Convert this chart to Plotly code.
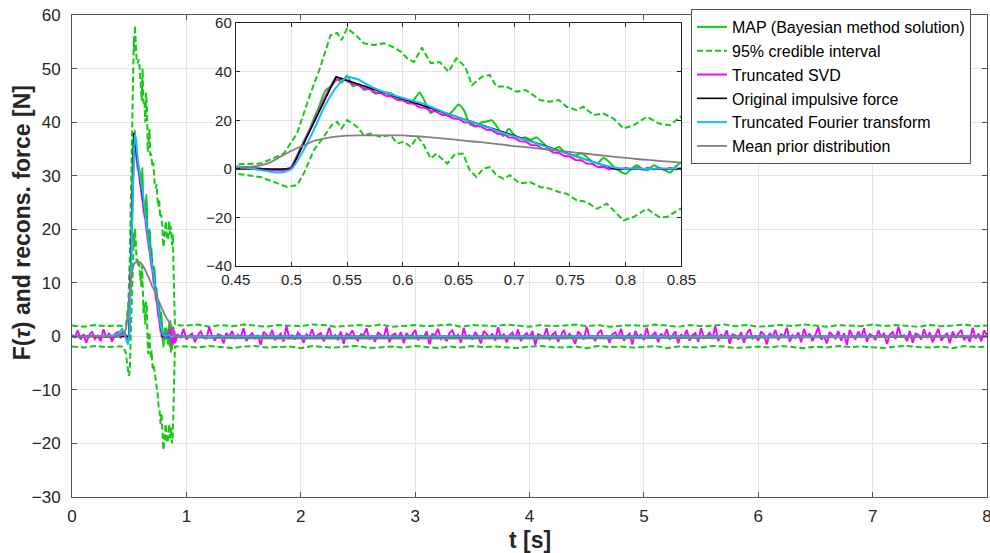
import numpy as np
import plotly.graph_objects as go

# ---------------- data ----------------
main_x_ticks = [0, 1, 2, 3, 4, 5, 6, 7, 8]
main_y_ticks = [-30, -20, -10, 0, 10, 20, 30, 40, 50, 60]
inset_x_ticks = [0.45, 0.5, 0.55, 0.6, 0.65, 0.7, 0.75, 0.8, 0.85]
inset_x_labels = ["0.45", "0.5", "0.55", "0.6", "0.65", "0.7", "0.75", "0.8", "0.85"]
inset_y_ticks = [-40, -20, 0, 20, 40, 60]

# original impulsive force (breakpoints)
orig_t = [0.0, 0.5, 0.54, 0.79, 8.0]
orig_f = [0.0, 0.0, 38.0, 0.0, 0.0]

# sample grid of the pulse window (0.45 ... 0.90 s, 5 ms)
pulse_t = np.round(np.linspace(0.45, 0.90, 91), 3)

map_pulse = [1.0, 0.8, 0.6, 0.4, 0.2, 0.0, -0.3, -0.5, -0.4, -0.1,
             0.8, 5.5, 10.5, 15.0, 20.5, 26.0, 32.0, 34.0, 37.5, 35.5,
             38.5, 34.0, 35.0, 32.5, 33.0, 31.0, 31.5, 31.5, 31.0, 29.5,
             28.5, 27.0, 28.5, 31.5, 27.5, 23.0, 24.5, 23.5, 22.0, 24.0,
             26.5, 24.0, 18.5, 17.5, 19.0, 19.5, 20.0, 17.0, 13.5, 16.5,
             14.0, 12.5, 13.0, 12.0, 13.0, 11.0, 9.0, 8.0, 9.0, 7.0,
             6.0, 5.5, 6.5, 5.0, 3.0, 2.5, 4.5, 3.0, 0.5, -1.0,
             -2.0, 0.0, 1.5, 0.0, -0.5, 1.5, 0.5, -0.5, -1.5, 1.0,
             2.5, -2.0, 3.0, -3.0, 2.0, -2.5, 1.5, -1.5, 1.0, -0.8, 0.3]
map_t_early = [0.0, 0.2, 0.4]
map_early = [0.0, 0.0, 0.0]
map_t_late = [0.95, 8.0]
map_late = [0.0, 0.0]

svd_pulse = [0.8, 0.4, 0.6, 0.2, 0.3, -0.2, -0.4, -0.3, -0.6, -0.2,
             0.8, 5.2, 9.8, 14.6, 19.6, 24.2, 29.5, 33.8, 36.6, 37.0,
             36.2, 35.0, 34.6, 33.2, 32.9, 31.6, 31.3, 30.0, 29.8, 28.5,
             28.2, 27.0, 26.8, 25.4, 25.2, 23.9, 23.6, 22.3, 22.1, 20.8,
             20.6, 19.2, 19.1, 17.6, 17.5, 16.1, 15.9, 14.5, 14.4, 13.0,
             12.8, 11.4, 11.3, 9.9, 9.8, 8.3, 8.2, 6.8, 6.6, 5.3,
             5.1, 3.7, 3.6, 2.2, 2.1, 0.8, 0.9, -0.2, 0.4, -0.3,
             0.5, -0.2, 0.6, -0.3, 0.5, -0.2, 0.4, -0.3, 0.5, -0.2,
             0.3, 1.2, -0.8, 1.5, -1.2, 0.6, -1.5, 1.8, -0.5, 1.0, -1.3]
svd_t_early = np.round(np.linspace(0.0, 0.425, 18), 3)
svd_early = [0.3, -0.2, 1.1, -0.6, 0.4, -1.2, 0.2, 0.9, -0.5, 0.1,
             -0.9, 1.3, -0.2, 0.6, -1.0, 0.4, 0.8, -0.3]
svd_t_late = np.round(np.linspace(0.925, 8.0, 284), 3)
svd_late = [0.3, -0.2, 1.4, -0.6, 0.1, 0.5, -1.1, 0.2, 0.9, -0.3, -0.4, 1.7, 0.0, -0.8, 0.4, 0.2, -1.3, 0.6, -0.1, 1.0,
            -0.5, 0.3, -0.2, 1.5, -0.9, 0.1, 0.6, -0.4, 0.2, -1.6, 0.8, 0.3, -0.2, 1.2, -0.7, 0.0, 0.5, -1.0, 1.9, -0.3,
            0.2, -0.6, 0.7, 0.1, -1.2, 0.4, -0.1, 1.3, -0.5, 0.3, 0.6, -0.9, 0.0, 1.6, -0.4, 0.2, -0.7, 0.9, -1.4, 0.5,
            0.1, 1.1, -0.3, -0.8, 0.4, 0.2, 1.5, -0.6, 0.0, -1.0, 0.7, 0.3, -0.2, 1.8, -1.1, 0.2, 0.5, -0.4, 0.8, -1.3,
            0.6, -0.1, 0.3, 1.2, -0.7, 0.1, -0.3, 0.9, -1.5, 0.4, 0.2, 1.4, -0.5, 0.0, -0.9, 0.6, 1.1, -0.2, 0.3, -1.2,
            1.6, -0.4, 0.2, -0.6, 0.8, 0.0, -1.3, 1.0, 0.3, -0.2, 0.5, -0.8, 1.7, -0.1, 0.4, -1.1, 0.2, 0.7, -0.5, 1.3,
            -0.9, 0.1, 0.6, -0.3, 1.0, -1.6, 0.4, 0.2, -0.1, 1.5, -0.7, 0.3, 0.8, -1.0, 0.0, 1.2, -0.4, 0.5, -0.2, -1.4,
            0.9, 0.3, -0.6, 1.8, -0.2, 0.1, -0.9, 0.6, 1.1, -0.5, 0.2, -1.2, 0.4, 0.7, -0.3, 1.4, -0.8, 0.0, 0.5, -1.5,
            1.0, -0.1, 0.3, -0.7, 1.6, -0.4, 0.2, 0.8, -1.1, 0.5, -0.2, 1.3, -0.6, 0.1, 0.9, -1.3, 0.4, -0.3, 1.2, -0.8,
            0.2, 0.6, -1.0, 1.5, -0.3, 0.0, 0.7, -0.5, 1.9, -0.9, 0.3, -0.1, 1.1, -1.4, 0.4, 0.2, -0.6, 0.8, -1.2, 0.5,
            1.3, -0.4, 0.1, -0.8, 0.9, 0.3, -1.5, 0.6, -0.2, 1.2, -0.7, 0.4, 0.0, 1.6, -1.0, 0.2, -0.3, 0.7, -1.1, 1.4,
            -0.2, 0.5, -0.9, 0.3, 1.7, -0.6, 0.1, -1.3, 0.8, 0.2, -0.4, 1.0, -0.8, 0.6, -1.6, 1.2, 0.0, -0.5, 0.9, -0.3,
            1.5, -1.0, 0.4, 0.1, -0.7, 1.1, -0.2, 0.6, -1.4, 0.3, 0.8, -0.5, 1.8, -0.1, 0.2, -0.9, 1.0, -1.2, 0.5, 0.3,
            -0.6, 1.3, -0.3, 0.7, -1.1, 0.2, 1.4, -0.8, 0.0, 0.6, -1.3, 0.9, -0.2, 0.4, 1.2, -0.7, 0.1, -1.0, 1.6, -0.4,
            0.5, -0.9, 1.1, 0.2]

# smooth curves on a 10 ms grid (0.40 ... 0.90 s)
smooth_t = np.round(np.linspace(0.40, 0.90, 51), 3)
fourier_pulse = [0.3, 0.6, 0.9, 1.2, 1.4, 1.0, 0.4, -0.3, -1.0, -1.5,
                 0.0, 7.0, 16.0, 26.0, 33.5, 37.8, 36.8, 34.2, 32.2, 30.6,
                 29.2, 27.9, 26.6, 24.6, 22.8, 21.2, 19.6, 18.0, 16.5, 14.8,
                 13.4, 12.0, 10.5, 8.9, 7.4, 6.0, 4.5, 3.0, 1.6, 0.6,
                 0.1, 0.2, 0.0, 0.2, 0.1, 0.3, 0.0, -0.2, 0.1, 0.0, 0.0]
fourier_t_early = [0.0, 0.2, 0.3]
fourier_early = [0.0, 0.0, 0.1]
fourier_t_late = [1.0, 8.0]
fourier_late = [0.0, 0.0]

prior_pulse = [0.0, 0.0, 0.1, 0.2, 0.2, 0.3, 0.7, 1.3, 2.5, 5.0,
               7.5, 9.5, 11.5, 12.6, 13.3, 13.7, 13.8, 13.8, 13.8, 13.8,
               13.8, 13.5, 13.2, 12.8, 12.4, 11.9, 11.4, 11.0, 10.5, 10.0,
               9.4, 9.0, 8.5, 8.0, 7.5, 7.0, 6.5, 6.0, 5.5, 5.0,
               4.6, 4.1, 3.7, 3.3, 3.0, 2.6, 2.3, 1.9, 0.8, 0.2, 0.0]
prior_t_early = [0.0, 0.3]
prior_early = [0.0, 0.0]
prior_t_late = [8.0]
prior_late = [0.0]

# 95 % credible interval
ci_t_early = [0.0, 0.1, 0.2, 0.3, 0.4]
ci_up_early = [2.0, 1.8, 2.1, 1.9, 2.0]
ci_lo_early = [-1.9, -2.1, -1.8, -2.0, -1.9]

ci_t_up_pulse = [0.45, 0.472, 0.493, 0.505, 0.517, 0.526, 0.535, 0.541, 0.545, 0.55,
                 0.559, 0.565, 0.574, 0.583, 0.592, 0.598, 0.604, 0.61, 0.617, 0.625,
                 0.633, 0.641, 0.648, 0.656, 0.662, 0.671, 0.678, 0.684, 0.693, 0.702,
                 0.71, 0.717, 0.723, 0.732, 0.74, 0.747, 0.756, 0.762, 0.771, 0.78,
                 0.789, 0.798, 0.807, 0.819, 0.83, 0.84, 0.849,
                 0.858, 0.866, 0.874, 0.882, 0.888, 0.894, 0.9]
ci_up_pulse = [1.9, 2.2, 6.3, 14.6, 31, 42, 55, 56, 53, 58,
               54.5, 51.7, 51, 51.7, 50, 48.3, 45.5, 44, 50, 43.5,
               44, 40, 45.5, 42, 34.5, 38, 38.7, 33.9, 33.9, 31.8,
               32.5, 30.4, 28.4, 27.7, 28.4, 25.6, 24.2, 25.6, 22.2, 22.8,
               20.8, 16.7, 18, 21.5, 18.7, 18, 21.5,
               19, 20.5, 17, 19, 12, 5, 2.1]
ci_t_lo_pulse = [0.45, 0.472, 0.487, 0.496, 0.505, 0.511, 0.52, 0.529, 0.536, 0.541,
                 0.545, 0.55, 0.559, 0.565, 0.571, 0.58, 0.589, 0.595, 0.601, 0.607,
                 0.613, 0.618, 0.625, 0.63, 0.64, 0.647, 0.654, 0.66, 0.666, 0.672,
                 0.678, 0.684, 0.69, 0.696, 0.705, 0.714, 0.723, 0.732, 0.74, 0.747,
                 0.756, 0.765, 0.774, 0.783, 0.792, 0.798, 0.807, 0.819, 0.83, 0.837, 0.849,
                 0.858, 0.866, 0.874, 0.882, 0.888, 0.894, 0.9]
ci_lo_pulse = [-1.9, -3.3, -6, -7.4, -6.7, -1.9, 7.7, 13.2, 18, 19.4,
               16.7, 20.1, 17.3, 13.9, 14.6, 13.2, 13.9, 10.5, 11.2, 9.1,
               13.2, 10.5, 4.3, 6.3, 2.2, 6.3, 6.3, -0.5, -3.3, 0.1,
               0.8, -2.6, -4, -2.6, -6, -5.4, -7.4, -8.1, -9.5, -10.2,
               -12.9, -13.6, -16.4, -14.3, -18.4, -21.2, -19.8, -16.4, -19.8, -19.8, -16.4,
               -19, -17, -20, -18, -11, -4, -1.9]
ci_t_late = np.round(np.linspace(1.0, 8.0, 71), 2)
ci_up_late = [2.0, 2.2, 1.8, 2.1, 1.9, 2.2, 2.0, 1.8, 2.1, 2.0,
              1.9, 2.2, 2.1, 1.8, 2.0, 2.1, 1.9, 2.2, 1.8, 2.0,
              2.1, 1.9, 2.0, 2.2, 1.8, 2.1, 2.0, 1.9, 2.2, 2.0,
              1.8, 2.1, 1.9, 2.0, 2.2, 1.9, 2.1, 1.8, 2.0, 2.1,
              1.9, 2.2, 2.0, 1.8, 2.1, 1.9, 2.0, 2.2, 1.9, 2.1,
              1.8, 2.0, 2.1, 1.9, 2.2, 2.0, 1.8, 2.1, 2.0, 1.9,
              2.2, 1.9, 2.1, 2.0, 1.8, 2.1, 1.9, 2.0, 2.2, 1.9, 2.0]
ci_lo_late = [-1.9, -2.1, -1.8, -2.0, -2.2, -1.9, -1.8, -2.1, -2.0, -1.9,
              -2.2, -1.8, -2.0, -2.1, -1.9, -1.8, -2.2, -2.0, -1.9, -2.1,
              -1.8, -2.0, -2.2, -1.9, -2.1, -1.8, -2.0, -1.9, -2.1, -2.2,
              -1.9, -1.8, -2.0, -2.1, -1.9, -2.2, -1.8, -2.0, -1.9, -2.1,
              -2.0, -1.8, -2.2, -1.9, -2.0, -2.1, -1.8, -1.9, -2.2, -2.0,
              -1.9, -2.1, -1.8, -2.0, -2.2, -1.9, -2.1, -1.8, -2.0, -1.9,
              -2.1, -2.2, -1.9, -1.8, -2.0, -2.1, -1.9, -2.2, -1.8, -2.0, -1.9]

x_title = "<b>t [s]</b>"
y_title = "<b>F(<i>τ</i>) and recons. force [N]</b>"

# ---------------- assemble series ----------------
def cat(*parts):
    out = []
    for p in parts:
        out.extend(list(p))
    return out

map_t = cat(map_t_early, pulse_t, map_t_late)
map_v = cat(map_early, map_pulse, map_late)
svd_t = cat(svd_t_early, pulse_t, svd_t_late)
svd_v = cat(svd_early, svd_pulse, svd_late)
four_t = cat(fourier_t_early, smooth_t, fourier_t_late)
four_v = cat(fourier_early, fourier_pulse, fourier_late)
prior_t = cat(prior_t_early, smooth_t, prior_t_late)
prior_v = cat(prior_early, prior_pulse, prior_late)
ciu_t = cat(ci_t_early, ci_t_up_pulse, ci_t_late)
ciu_v = cat(ci_up_early, ci_up_pulse, ci_up_late)
cil_t = cat(ci_t_early, ci_t_lo_pulse, ci_t_late)
cil_v = cat(ci_lo_early, ci_lo_pulse, ci_lo_late)

GREEN = "#14c814"
MAGENTA = "#ff00ff"
CYAN = "#12bff0"
GRAY = "#808080"
BLACK = "#000000"

series = [
    ("MAP (Bayesian method solution)", map_t, map_v, dict(color=GREEN, width=2, shape="spline", smoothing=0.6), True, "map"),
    ("95% credible interval", ciu_t, ciu_v, dict(color=GREEN, width=2, dash="6px,3px"), True, "ci"),
    ("95% credible interval", cil_t, cil_v, dict(color=GREEN, width=2, dash="6px,3px"), False, "ci"),
    ("Truncated SVD", svd_t, svd_v, dict(color=MAGENTA, width=2), True, "svd"),
    ("Original impulsive force", orig_t, orig_f, dict(color=BLACK, width=1.6), True, "orig"),
    ("Truncated Fourier transform", four_t, four_v, dict(color=CYAN, width=2, shape="spline", smoothing=0.6), True, "four"),
    ("Mean prior distribution", prior_t, prior_v, dict(color=GRAY, width=1.8, shape="spline", smoothing=0.6), True, "prior"),
]

fig = go.Figure()
for name, t, v, line, show, grp in series:
    fig.add_trace(go.Scatter(x=t, y=v, mode="lines", name=name, line=line,
                             showlegend=show, legendgroup=grp, xaxis="x", yaxis="y"))
for name, t, v, line, show, grp in series:
    fig.add_trace(go.Scatter(x=t, y=v, mode="lines", name=name, line=line,
                             showlegend=False, legendgroup=grp, xaxis="x2", yaxis="y2"))

FONT = "Liberation Sans, Arial, Helvetica, sans-serif"
GRID = "#e4e4e4"
TXT = "#262626"

fig.update_layout(
    width=990, height=553,
    margin=dict(l=72, r=3, t=15, b=56),
    paper_bgcolor="white", plot_bgcolor="white",
    font=dict(family=FONT, color=TXT),
    legend=dict(x=0.6765, y=1.0124, xanchor="left", yanchor="top",
                bgcolor="white", bordercolor="#555555", borderwidth=1,
                font=dict(size=16, color="black", family=FONT),
                tracegroupgap=0, itemwidth=30),
    xaxis=dict(domain=[0, 1], range=[0, 8], tickvals=main_x_ticks,
               ticks="inside", ticklen=5, tickcolor="#555555",
               showline=True, linecolor="#555555", linewidth=1, mirror="ticks",
               showgrid=True, gridcolor=GRID, zeroline=False,
               tickfont=dict(size=17, color=TXT), automargin=False,
               ticklabelstandoff=4, ticklabeloverflow="allow"),
    yaxis=dict(domain=[0, 1], range=[-30, 60], tickvals=main_y_ticks,
               ticks="inside", ticklen=5, tickcolor="#555555",
               showline=True, linecolor="#555555", linewidth=1, mirror="ticks",
               showgrid=True, gridcolor=GRID, zeroline=False,
               tickfont=dict(size=17, color=TXT), automargin=False,
               ticklabelstandoff=7, ticklabeloverflow="allow"),
    xaxis2=dict(domain=[0.179, 0.666], anchor="y2", range=[0.45, 0.85],
                tickvals=inset_x_ticks, ticktext=inset_x_labels,
                ticks="inside", ticklen=4, tickcolor="#222222",
                showline=True, linecolor="#222222", linewidth=1, mirror="ticks",
                showgrid=True, gridcolor=GRID, zeroline=False,
                tickfont=dict(size=15, color=TXT), automargin=False),
    yaxis2=dict(domain=[0.479, 0.983], anchor="x2", range=[-40, 60],
                tickvals=inset_y_ticks,
                ticks="inside", ticklen=4, tickcolor="#222222",
                showline=True, linecolor="#222222", linewidth=1, mirror="ticks",
                showgrid=True, gridcolor=GRID, zeroline=False,
                tickfont=dict(size=15, color=TXT), automargin=False),
    annotations=[
        dict(text=x_title, xref="paper", yref="paper", x=0.5, y=-0.0892,
             xanchor="center", yanchor="middle", showarrow=False,
             font=dict(size=23, color=TXT, family=FONT)),
        dict(text=y_title, xref="paper", yref="paper", x=-0.0546, y=0.568,
             xanchor="center", yanchor="middle", textangle=-90, showarrow=False,
             font=dict(size=23, color=TXT, family=FONT)),
    ],
)

# remove the default 8px page margin so the figure fills the window exactly
fig.write_html("out.html", config={"displayModeBar": False},
               post_script="document.body.style.margin='0px';")
